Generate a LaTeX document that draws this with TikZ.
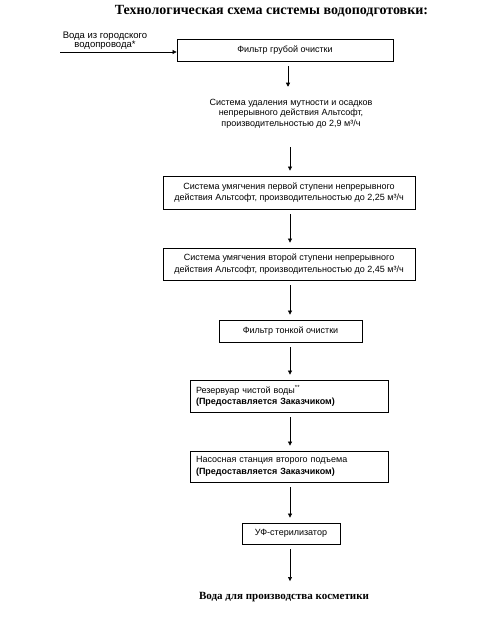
\documentclass[tikz,border=0pt]{standalone}
\usepackage{fontspec}
\setmainfont{Liberation Serif}
\setsansfont{Liberation Sans}
\usetikzlibrary{arrows.meta}
\begin{document}
\begin{tikzpicture}[x=1pt,y=-1pt,
  box/.style={draw,line width=0.8pt,inner sep=0pt,font=\sffamily\fontsize{9}{11.5}\selectfont,align=center},
  lbox/.style={box,align=left,text width=#1,inner xsep=6pt},
  plain/.style={inner sep=0pt,font=\sffamily\fontsize{9}{10.5}\selectfont,align=center},
  arr/.style={line width=0.6pt,-{Triangle[length=4pt,width=4pt]},shorten <=5pt,shorten >=5pt}]
\useasboundingbox (0,0) rectangle (490,623);
\node[inner sep=0pt,font=\bfseries\fontsize{14}{16}\selectfont] (title) at (271.5,11) {Технологическая схема системы водоподготовки:};
\node[plain,font=\sffamily\fontsize{9.5}{9.5}\selectfont] (in) at (105,40.5) {Вода из городского\\водопровода*};
\coordinate (src) at (60,52);
\node[box,minimum width=216pt,minimum height=22pt] (b1) at (285,50) {Фильтр грубой очистки};
\node[plain] (t2) at (291,113.5) {Система удаления мутности и осадков\\непрерывного действия Альтсофт,\\производительностью до 2,9 м³/ч};
\node[box,minimum width=252pt,minimum height=33pt] (b3) at (289,192.5) {Система умягчения первой ступени непрерывного\\действия Альтсофт, производительностью до 2,25 м³/ч};
\node[box,minimum width=252pt,minimum height=32pt] (b4) at (289,264) {Система умягчения второй ступени непрерывного\\действия Альтсофт, производительностью до 2,45 м³/ч};
\node[box,minimum width=143pt,minimum height=22pt] (b5) at (290.5,331) {Фильтр тонкой очистки};
\node[lbox=186pt,minimum height=32pt] (b6) at (289,396) {Резервуар чистой воды\textsuperscript{**}\\\textbf{(Предоставляется Заказчиком)}};
\node[lbox=186pt,minimum height=31pt] (b7) at (289,466.5) {Насосная станция второго подъема\\\textbf{(Предоставляется Заказчиком)}};
\node[box,minimum width=98pt,minimum height=21pt] (b8) at (291,533.5) {УФ-стерилизатор};
\node[inner sep=0pt,font=\bfseries\fontsize{11}{13}\selectfont] (out) at (284,597) {Вода для производства косметики};
\coordinate (ax) at (290,0);
\coordinate (ax1) at (288,0);
\draw[line width=0.6pt,-{Triangle[length=4pt,width=4pt]}] (src) -- (src -| b1.west);
\draw[arr] (b1.south -| ax1) -- ([yshift=7pt]t2.north -| ax1);
\draw[arr] ([yshift=-14pt]t2.south -| ax) -- (b3.north -| ax);
\draw[arr] (b3.south -| ax) -- (b4.north -| ax);
\draw[arr] (b4.south -| ax) -- (b5.north -| ax);
\draw[arr] (b5.south -| ax) -- (b6.north -| ax);
\draw[arr] (b6.south -| ax) -- (b7.north -| ax);
\draw[arr] (b7.south -| ax) -- (b8.north -| ax);
\draw[arr] (b8.south -| ax) -- ([yshift=6pt]out.north -| ax);
\end{tikzpicture}
\end{document}
